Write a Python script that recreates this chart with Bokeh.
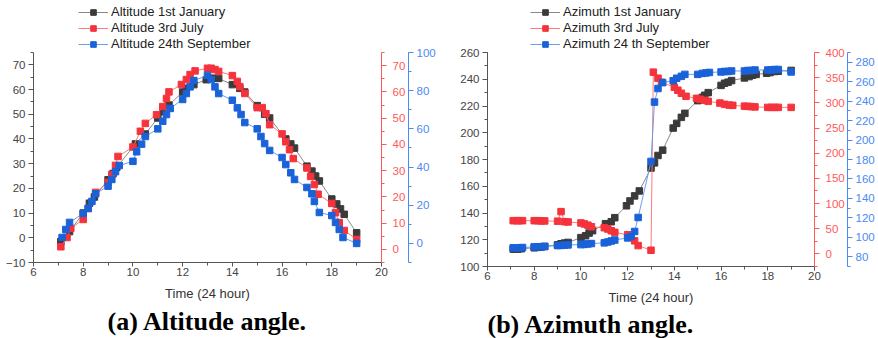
from bokeh.plotting import figure
from bokeh.models import (Range1d, LinearAxis, SingleIntervalTicker, Legend, LegendItem, Title)
from bokeh.layouts import row
from bokeh.embed import file_html
from bokeh.resources import INLINE

# ---------------- data: (a) altitude ----------------
alt_jan_t = [7.1, 7.45, 8.0, 8.25, 8.45, 9.0, 9.2, 9.35, 10.1, 10.5, 11.0, 11.2, 11.45, 12.0, 12.15, 12.45,
             12.95, 13.2, 13.45, 14.0, 14.3, 14.5, 15.0, 15.3, 15.5, 16.15, 16.35, 16.5, 17.0, 17.2, 17.35,
             17.5, 18.0, 18.2, 18.35, 18.5, 19.0]
alt_jan_v = [-1.5, 2.5, 10, 14, 16.5, 23.5, 26, 28.5, 38, 42, 48.5, 51, 53.7, 59, 60.5, 62,
             64, 64.6, 64.5, 62, 60.5, 59, 53.5, 50, 48.5, 40, 38, 36.3, 29, 27, 25,
             23, 15.7, 13.7, 11.7, 9.5, 2]

alt_jul_t = [7.1, 7.35, 7.5, 8.0, 8.2, 8.5, 9.0, 9.15, 9.3, 9.4, 10.0, 10.3, 10.5, 10.95, 11.2, 11.35, 11.45,
             11.95, 12.15, 12.3, 12.5, 13.0, 13.15, 13.3, 13.45, 14.0, 14.2, 14.3, 14.5, 15.0, 15.2, 15.35,
             15.5, 16.0, 16.15, 16.3, 16.45, 17.0, 17.15, 17.3, 17.45, 18.0, 18.15, 18.3, 18.5, 19.0]
alt_jul_v = [1.0, 4.5, 8, 11.4, 15.6, 21.7, 25.5, 28.5, 32, 35.4, 39, 45, 48, 51.3, 54.4, 57.5, 60,
             62.8, 64.7, 66.6, 68, 69, 69, 68.5, 67.8, 66.2, 64, 62, 59.4, 54, 54, 51.7,
             47.5, 44, 41, 38, 34.6, 31, 27.8, 24.7, 21, 17.5, 14, 10.2, 7.2, 3.8]

alt_sep_t = [7.15, 7.3, 7.45, 8.0, 8.2, 8.35, 8.5, 9.0, 9.15, 9.3, 9.45, 10.0, 10.15, 10.35, 10.5, 11.0,
             11.2, 11.35, 11.5, 12.0, 12.15, 12.3, 12.45, 13.0, 13.15, 13.3, 13.45, 14.0, 14.2, 14.35,
             14.5, 15.0, 15.15, 15.3, 15.5, 16.0, 16.15, 16.35, 16.5, 17.0, 17.2, 17.3, 17.5, 18.0,
             18.15, 18.3, 18.45, 19.0]
alt_sep_v = [3.1, 7.3, 11, 15.7, 18.3, 22, 26, 30, 33.5, 37.6, 40.8, 43, 48, 52, 56, 60,
             64, 67.5, 70.7, 75.4, 78.5, 82, 85.3, 88, 85.8, 82, 78.5, 75, 71, 67.5,
             63.3, 60, 56, 52.3, 48.7, 45, 41.3, 37, 33.5, 29.3, 26, 22, 16.2, 14.6,
             11, 7.3, 3.1, 0]

# ---------------- data: (b) azimuth ----------------
az_jan_t = [7.1, 7.2, 7.3, 7.45, 8.0, 8.15, 8.3, 8.45, 9.0, 9.15, 9.3, 9.45, 10.0, 10.2, 10.35, 10.5,
            11.05, 11.3, 11.45, 11.95, 12.1, 12.3, 12.5, 13.0, 13.15, 13.3, 13.5, 13.95, 14.1, 14.3,
            14.45, 15.0, 15.2, 15.3, 15.45, 16.0, 16.15, 16.3, 16.45, 17.0, 17.2, 17.35, 17.5, 17.95,
            18.1, 18.3, 18.45, 19.0]
az_jan_v = [113, 113, 113, 113.3, 114, 114.3, 114.6, 115, 116.2, 117, 117.5, 118, 121.6, 123, 125, 126.8,
            132, 133.5, 136.5, 145.4, 149, 152.8, 156.5, 173.6, 177.5, 183, 187, 203.5, 207, 211.5,
            214.5, 224, 226.5, 228, 230, 235.4, 237, 237.8, 239, 241, 242, 243, 243.6, 244.5,
            245, 245.8, 246, 246.6]

az_jul_t = [7.1, 7.25, 7.35, 7.5, 8.0, 8.15, 8.3, 8.45, 9.0, 9.15, 9.3, 9.45, 10.0, 10.15, 10.3, 10.45,
            11.0, 11.15, 11.3, 11.45, 12.0, 12.3, 12.45, 13.0, 13.1, 13.3, 13.45, 14.0, 14.15, 14.3,
            14.5, 14.95, 15.1, 15.3, 15.45, 15.95, 16.15, 16.35, 16.5, 17.0, 17.15, 17.3, 17.45, 18.0,
            18.15, 18.3, 18.45, 19.0]
az_jul_v = [66, 66, 66, 66, 66, 66, 65.5, 65.5, 65, 84, 64, 63.5, 61.5, 59.5, 57, 54,
            52, 49.5, 46, 42.8, 38, 26, 16.5, 7.3, 361, 349, 341, 331, 325, 319,
            313, 309, 307, 305, 303, 299.6, 297, 295.5, 295, 293.5, 293, 292.5, 292, 291,
            291, 291, 291, 291]

az_sep_t = [7.1, 7.25, 7.35, 7.5, 8.0, 8.15, 8.3, 8.45, 9.0, 9.15, 9.3, 9.45, 10.0, 10.15, 10.3, 10.45,
            11.0, 11.15, 11.3, 11.45, 12.0, 12.15, 12.3, 12.45, 13.0, 13.15, 13.3, 13.5, 13.95, 14.1,
            14.3, 14.45, 15.0, 15.2, 15.35, 15.5, 16.0, 16.15, 16.3, 16.45, 17.0, 17.15, 17.3, 17.45,
            18.0, 18.15, 18.3, 18.45, 19.0]
az_sep_v = [89.2, 89.2, 89.3, 89.5, 90.2, 90.2, 90.4, 90.6, 91.5, 91.7, 92, 92.2, 92.5, 92.7, 93.2, 93.6,
            94.3, 95.2, 96.2, 97.2, 99.4, 100.8, 106, 120.4, 178, 239, 253, 259, 261, 263.5,
            265.5, 267.5, 267.5, 268.5, 269, 269.5, 270, 270.5, 270.5, 271, 271, 271.5, 271.5, 272,
            272, 272, 272.5, 272.5, 270]

alt_labels = ["Altitude 1st January", "Altitude 3rd July", "Altitude 24th September"]
az_labels = ["Azimuth 1st January", "Azimuth 3rd July", "Azimuth 24 th September"]

BLK, BLK_L = "#3a3a3a", "#8a8a8a"
RED, RED_L = "#f5333c", "#ff7a7a"
BLU, BLU_L = "#1a62d8", "#6a9ef0"
AX_BLK, AX_RED, AX_BLU = "#555555", "#ff5a5a", "#4a8af5"
FONT = "Liberation Sans"
LEG_PX = 48  # space on top of the data area for the legend


def ext(lo, hi, data_px):
    # extend the range upward so the legend sits above the data area
    return Range1d(lo, hi + (hi - lo) * LEG_PX / data_px)


def style_axis(ax, color, interval, bounds, label_color=None, tick=5, standoff=3):
    ax.ticker = SingleIntervalTicker(interval=interval, num_minor_ticks=2)
    ax.bounds = bounds
    ax.axis_line_color = color
    ax.major_tick_line_color = color
    ax.minor_tick_line_color = color
    ax.major_tick_out = tick
    ax.major_tick_in = 0
    ax.minor_tick_out = 3
    ax.minor_tick_in = 0
    ax.major_label_text_color = label_color or color
    ax.major_label_text_font = FONT
    ax.major_label_text_font_size = "11.5px"
    ax.major_label_standoff = standoff


def make_panel(series, labels, yr, red_r, blue_r, yint, rint, bint, w, data_px, caption,
               cap_offset, cap_stand, legend_x, min_left):
    p = figure(output_backend="svg", toolbar_location=None, width=w, frame_height=data_px + LEG_PX,
               x_range=Range1d(6, 20), y_range=ext(*yr, data_px), min_border_left=min_left,
               min_border_right=0, min_border_top=4, min_border_bottom=0)
    p.extra_y_ranges = {"red": ext(*red_r, data_px), "blue": ext(*blue_r, data_px)}
    p.outline_line_color = None
    p.xgrid.visible = False
    p.ygrid.visible = False

    style_axis(p.xaxis[0], AX_BLK, 2, (6, 20), "#444444", tick=4, standoff=1)
    style_axis(p.yaxis[0], AX_BLK, yint, yr, "#444444")
    p.xaxis[0].axis_label = "Time (24 hour)"
    p.xaxis[0].axis_label_text_font = FONT
    p.xaxis[0].axis_label_text_font_style = "normal"
    p.xaxis[0].axis_label_text_font_size = "13px"
    p.xaxis[0].axis_label_text_color = "#333333"
    p.xaxis[0].axis_label_standoff = 7

    red_ax = LinearAxis(y_range_name="red")
    style_axis(red_ax, AX_RED, rint, red_r, standoff=6)
    p.add_layout(red_ax, "right")
    blue_ax = LinearAxis(y_range_name="blue")
    style_axis(blue_ax, AX_BLU, bint, blue_r)
    p.add_layout(blue_ax, "right")

    items = []
    cols = [(BLK, BLK_L, "default"), (RED, RED_L, "red"), (BLU, BLU_L, "blue")]
    for (t, v), (mc, lc, rn), lab in zip(series, cols, labels):
        r1 = p.line(t, v, line_color=lc, line_width=1, y_range_name=rn)
        r2 = p.scatter(t, v, marker="square", size=6.5, fill_color=mc, line_color=mc,
                       y_range_name=rn)
        items.append(LegendItem(label=lab, renderers=[r1, r2]))

    leg = Legend(items=items, location=(legend_x, data_px + 1), orientation="vertical")
    leg.glyph_width = 30
    leg.glyph_height = 14
    leg.label_height = 14
    leg.spacing = 1
    leg.padding = 0
    leg.margin = 0
    leg.label_standoff = 3
    leg.label_text_font = FONT
    leg.label_text_font_size = "13px"
    leg.label_text_color = "#222222"
    leg.border_line_color = None
    leg.background_fill_alpha = 0
    p.add_layout(leg, "center")

    cap = Title(text=caption, align="left", offset=cap_offset, text_font="Liberation Serif",
                text_font_style="bold", text_font_size="26px", text_color="#000000",
                standoff=cap_stand)
    p.add_layout(cap, "below")
    return p


p1 = make_panel([(alt_jan_t, alt_jan_v), (alt_jul_t, alt_jul_v), (alt_sep_t, alt_sep_v)],
                alt_labels, (-10, 75), (-5, 75), (-10, 100), 10, 10, 20, 438, 210,
                "(a)  Altitude angle.", 74, 3, 45, 33)
p2 = make_panel([(az_jan_t, az_jan_v), (az_jul_t, az_jul_v), (az_sep_t, az_sep_v)],
                az_labels, (100, 260), (-25, 400), (70, 290), 20, 50, 20, 439, 214,
                "(b) Azimuth angle.", 0, 0, 43, 49)

layout = row(p1, p2, spacing=0)
open("out.html", "w").write(file_html(layout, INLINE))
